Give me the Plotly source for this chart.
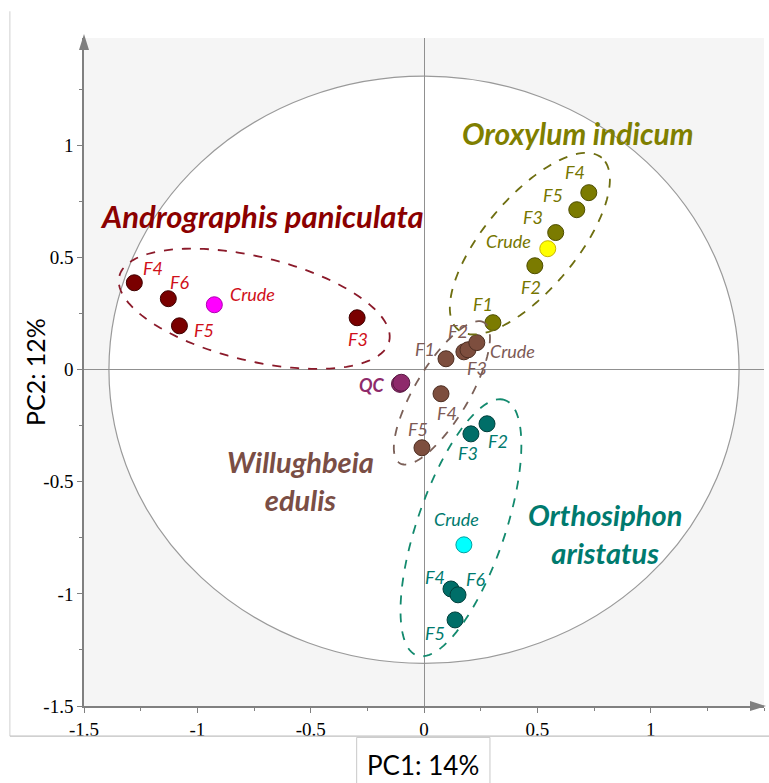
import math
import plotly.graph_objects as go

# ---------------- data ----------------
andro_names = ["F4", "F6", "F5", "F3", "Crude"]
andro_x = [-1.278, -1.128, -1.079, -0.295, -0.925]
andro_y = [0.388, 0.317, 0.196, 0.232, 0.290]

orox_names = ["F4", "F5", "F3", "F2", "F1", "Crude"]
orox_x = [0.727, 0.674, 0.581, 0.489, 0.304, 0.546]
orox_y = [0.790, 0.714, 0.612, 0.464, 0.210, 0.540]

will_names = ["F1", "F2", "F3", "Crude", "F4", "F5"]
will_x = [0.097, 0.176, 0.194, 0.233, 0.075, -0.009]
will_y = [0.049, 0.080, 0.089, 0.121, -0.107, -0.348]

qc_x = [-0.106, -0.100]
qc_y = [-0.063, -0.058]

orth_names = ["F2", "F3", "F4", "F6", "F5", "Crude"]
orth_x = [0.278, 0.207, 0.119, 0.150, 0.137, 0.176]
orth_y = [-0.241, -0.286, -0.978, -1.004, -1.116, -0.781]

x_ticks = [-1.5, -1, -0.5, 0, 0.5, 1]
y_ticks = [-1.5, -1, -0.5, 0, 0.5, 1]

# --------------- styles ---------------
SX, SY = 227.0, 224.0  # approx pixels per unit (for ellipse outlines)

fig = go.Figure()


def ellipse(cx, cy, a_px, b_px, ang_deg, n=120):
    th = math.radians(ang_deg)
    pts = []
    for i in range(n + 1):
        t = 2 * math.pi * i / n
        dx = a_px * math.cos(t) * math.cos(th) - b_px * math.sin(t) * math.sin(th)
        dy = a_px * math.cos(t) * math.sin(th) + b_px * math.sin(t) * math.cos(th)
        pts.append((cx + dx / SX, cy + dy / SY))
    return "M " + " L ".join(f"{x:.4f},{y:.4f}" for x, y in pts) + " Z"


# correlation circle
fig.add_shape(type="circle", xref="x", yref="y", x0=-1.39, x1=1.39, y0=-1.31, y1=1.31,
              line=dict(color="#9a9a9a", width=1.2), fillcolor="white", layer="below")

# group ellipses
ell = [
    (-0.749, 0.272, 139, 52, -13.5, "#8b1a2a"),
    (0.467, 0.5625, 112, 46, 50, "#6e6e10"),
    (0.079, -0.103, 82, 27, 59, "#7b6058"),
    (0.163, -0.705, 135, 44, 71, "#138a6e"),
]
for cx, cy, a, b, ang, col in ell:
    fig.add_shape(type="path", xref="x", yref="y", path=ellipse(cx, cy, a, b, ang),
                  line=dict(color=col, width=1.8, dash="dash"), layer="above")


def add_group(names, xs, ys, col, edge, crude_col, crude_edge):
    cols = [crude_col if n == "Crude" else col for n in names]
    edges = [crude_edge if n == "Crude" else edge for n in names]
    fig.add_trace(go.Scatter(x=xs, y=ys, mode="markers", showlegend=False,
                             marker=dict(size=16, color=cols, line=dict(color=edges, width=1))))


add_group(andro_names, andro_x, andro_y, "#7a0000", "#3d0000", "#ff00ff", "#b000b0")
add_group(orox_names, orox_x, orox_y, "#7b7b00", "#4d4d00", "#ffff00", "#c8b400")
add_group(will_names, will_x, will_y, "#7d4e3e", "#4d2e22", "#7d4e3e", "#4d2e22")
fig.add_trace(go.Scatter(x=qc_x, y=qc_y, mode="markers", showlegend=False,
                         marker=dict(size=17, color="#8e2a6b", line=dict(color="#5a1a44", width=1))))
add_group(orth_names, orth_x, orth_y, "#006e68", "#00403c", "#00ffff", "#00a0a0")

# point labels (pixel offsets from each point)
lab_font = "Lato"
andro_off = {"F4": (19, 15), "F6": (12, 17), "F5": (25, -4), "F3": (1, -21), "Crude": (38, 11)}
orox_off = {"F4": (-14, 21), "F5": (-24, 15), "F3": (-23, 16), "F2": (-4, -21), "F1": (-10, 19), "Crude": (-39, 8)}
will_off = {"F1": (-21, 10), "F2": (-6, 21), "F3": (9, -18), "Crude": (36, -8), "F4": (6, -19), "F5": (-4, 19)}
orth_off = {"F2": (11, -17), "F3": (-3, -19), "F4": (-16, 12), "F6": (18, 16), "F5": (-20, -13), "Crude": (-7, 26)}


def add_labels(names, xs, ys, offs, col):
    for n, x, y in zip(names, xs, ys):
        dx, dy = offs[n]
        fig.add_annotation(x=x, y=y, text=f"<i>{n}</i>", showarrow=False, xshift=dx, yshift=dy,
                           xanchor="center", yanchor="middle",
                           font=dict(family=lab_font, size=18, color=col))


add_labels(andro_names, andro_x, andro_y, andro_off, "#d0101a")
add_labels(orox_names, orox_x, orox_y, orox_off, "#767600")
add_labels(will_names, will_x, will_y, will_off, "#7d5a55")
add_labels(orth_names, orth_x, orth_y, orth_off, "#007a6e")
fig.add_annotation(x=qc_x[0], y=qc_y[0], text="<b><i>QC</i></b>", showarrow=False, xshift=-28, yshift=-1,
                   xanchor="center", yanchor="middle",
                   font=dict(family=lab_font, size=18, color="#8e2a6b"))

# group titles
titles = [
    (-0.714, 0.6875, "Andrographis paniculata", "#8b0000", 31),
    (0.678, 1.058, "Oroxylum indicum", "#7f7f00", 30),
    (-0.546, -0.496, "Willughbeia<br>edulis", "#7a4e45", 29),
    (0.80, -0.73, "Orthosiphon<br>aristatus", "#007a6e", 29),
]
for x, y, t, c, fs in titles:
    fig.add_annotation(x=x, y=y, text=f"<b><i>{t}</i></b>", showarrow=False,
                       xanchor="center", yanchor="middle",
                       font=dict(family=lab_font, size=fs, color=c))

# axis arrows
fig.add_shape(type="path", xref="paper", yref="paper", xsizemode="pixel", ysizemode="pixel",
              xanchor=1.0, yanchor=0.0, path="M 2,0 L -14,-5 L -14,5 Z",
              fillcolor="#808080", line=dict(width=0))
fig.add_shape(type="path", xref="paper", yref="paper", xsizemode="pixel", ysizemode="pixel",
              xanchor=0.0, yanchor=1.0, path="M 0,4 L -5,-12 L 5,-12 Z",
              fillcolor="#808080", line=dict(width=0))

# frame lines and x title box
fig.add_shape(type="line", xref="paper", yref="paper", x0=-0.109, x1=-0.109, y0=-0.045, y1=1.04,
              line=dict(color="#d0d0d0", width=1))
fig.add_shape(type="line", xref="paper", yref="paper", x0=-0.109, x1=1.01, y0=-0.045, y1=-0.045,
              line=dict(color="#c0c0c0", width=1.2))
fig.add_shape(type="rect", xref="paper", yref="paper", x0=0.401, x1=0.597, y0=-0.047, y1=-0.118,
              line=dict(color="#c8c8c8", width=1), fillcolor="white")
fig.add_annotation(xref="paper", yref="paper", x=0.499, y=-0.088, text="PC1: 14%", showarrow=False,
                   xanchor="center", yanchor="middle",
                   font=dict(family="Lato", size=26, color="black"))
fig.add_annotation(xref="paper", yref="paper", x=-0.072, y=0.5, text="PC2: 12%", showarrow=False,
                   xanchor="center", yanchor="middle",
                   textangle=-90, font=dict(family="Lato", size=25, color="black"))

axis_common = dict(showgrid=False, zeroline=True, zerolinecolor="#909090", zerolinewidth=1,
                   showline=True, linecolor="#808080", linewidth=1.5,
                   ticks="outside", ticklen=5, tickcolor="#808080", tickwidth=1,
                   tickfont=dict(family="Liberation Serif, Times New Roman, serif", size=19, color="black"),
                   minor=dict(dtick=0.25, ticks="outside", ticklen=3, tickcolor="#808080"))

fig.update_xaxes(range=[-1.5, 1.5], tickvals=x_ticks, ticktext=[f"{v:g}" for v in x_ticks],
                 **axis_common)
fig.update_yaxes(range=[-1.5, 1.48], tickvals=y_ticks, ticktext=[f"{v:g}" for v in y_ticks],
                 **axis_common)

fig.update_layout(width=769, height=783, margin=dict(l=84, r=5, t=38, b=77),
                  plot_bgcolor="#f5f5f5", paper_bgcolor="white", showlegend=False)

fig.write_html("out.html")
